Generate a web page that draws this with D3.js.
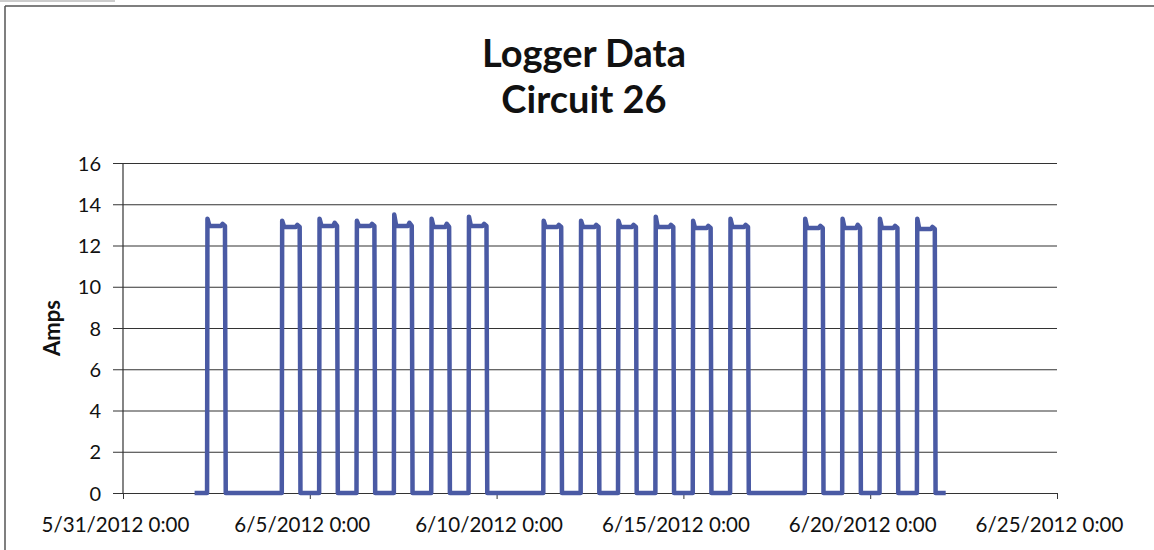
<!DOCTYPE html>
<html>
<head>
<meta charset="utf-8">
<script src="https://cdn.jsdelivr.net/npm/d3@7"></script>
<style>
  body { margin: 0; background: #fff; }
  svg { display: block; }
  text { font-family: Lato, "Open Sans", sans-serif; fill: #111; }
</style>
</head>
<body>
<svg id="chart"></svg>
<script>
const width = 1154;
const height = 550;

// days the circuit ran (6:00 on, 18:00 off)
const pulseDays = [
  "2012-06-02", "2012-06-04", "2012-06-05", "2012-06-06", "2012-06-07", "2012-06-08",
  "2012-06-09", "2012-06-11", "2012-06-12", "2012-06-13", "2012-06-14", "2012-06-15",
  "2012-06-16", "2012-06-18", "2012-06-19", "2012-06-20", "2012-06-21"
];
// start spike, plateau, late bump
const peakAmps    = [13.3, 13.2, 13.3, 13.2, 13.5, 13.3, 13.4, 13.2, 13.2, 13.2, 13.4, 13.2, 13.3, 13.3, 13.3, 13.3, 13.3];
const plateauAmps = [12.95, 12.9, 12.95, 12.95, 12.95, 12.9, 12.95, 12.9, 12.9, 12.9, 12.9, 12.85, 12.9, 12.85, 12.85, 12.85, 12.8];
const bumpAmps    = [13.05, 13.0, 13.1, 13.05, 13.1, 13.05, 13.05, 13.0, 13.0, 13.0, 13.0, 12.95, 13.0, 12.95, 13.0, 12.95, 12.9];
const shapeHours  = [6, 6.25, 7.5, 15, 16, 17.5, 18];

const seriesStart = "2012-06-01T22:00:00";
const seriesEnd = "2012-06-22T00:30:00";

const xTickDates = ["2012-05-31", "2012-06-05", "2012-06-10", "2012-06-15", "2012-06-20", "2012-06-25"];
const yTicks = [0, 2, 4, 6, 8, 10, 12, 14, 16];

const parseDay = d3.timeParse("%Y-%m-%d");
const parseTime = d3.timeParse("%Y-%m-%dT%H:%M:%S");

// assemble the logger readings
const readings = [{ t: parseTime(seriesStart), v: 0 }];
pulseDays.forEach((day, i) => {
  const base = parseDay(day);
  const vals = [0, peakAmps[i], plateauAmps[i], plateauAmps[i], bumpAmps[i], plateauAmps[i], 0];
  shapeHours.forEach((h, j) => {
    readings.push({ t: new Date(base.getTime() + h * 3600e3), v: vals[j] });
  });
});
readings.push({ t: parseTime(seriesEnd), v: 0 });

const svg = d3.select("#chart")
  .attr("width", width)
  .attr("height", height);

// scanned frame
svg.append("line")
  .attr("x1", 5).attr("x2", width).attr("y1", 6).attr("y2", 6)
  .attr("stroke", "#555").attr("stroke-width", 1.5);
svg.append("line")
  .attr("x1", 5).attr("x2", 5).attr("y1", 6).attr("y2", height)
  .attr("stroke", "#555").attr("stroke-width", 1.5);
svg.append("line")
  .attr("x1", 0).attr("x2", 115).attr("y1", 1).attr("y2", 1)
  .attr("stroke", "#999").attr("stroke-width", 1);

const x = d3.scaleTime()
  .domain([parseDay(xTickDates[0]), parseDay(xTickDates[xTickDates.length - 1])])
  .range([123, 1057]);

const y = d3.scaleLinear()
  .domain([0, 16])
  .range([493, 163]);

// gridlines + y ticks
svg.append("g")
  .attr("transform", "translate(123,0)")
  .call(d3.axisLeft(y).tickValues(yTicks).tickSize(-(1057 - 123)).tickPadding(22).tickSizeOuter(0))
  .call(g => g.select(".domain").remove())
  .call(g => g.selectAll(".tick line").attr("stroke", "#333").attr("stroke-width", 1.2).attr("x1", -10))
  .call(g => g.selectAll(".tick text").style("font-size", "20px").attr("dy", "0.35em"));

// y axis line
svg.append("line")
  .attr("x1", 123).attr("x2", 123).attr("y1", y(16)).attr("y2", y(0))
  .attr("stroke", "#333").attr("stroke-width", 1.2);

// x axis
const fmtTick = d3.timeFormat("%-m/%-d/%Y 0:00");
svg.append("g")
  .attr("transform", `translate(0,${y(0)})`)
  .call(d3.axisBottom(x).tickValues(xTickDates.map(parseDay)).tickFormat(fmtTick).tickSize(6).tickPadding(18).tickSizeOuter(0))
  .call(g => g.select(".domain").attr("stroke", "#333").attr("stroke-width", 1.2))
  .call(g => g.selectAll(".tick line").attr("stroke", "#333"))
  .call(g => g.selectAll(".tick text").style("font-size", "20.5px").attr("dx", "-8"));

// data line
const line = d3.line()
  .x(d => x(d.t))
  .y(d => y(d.v));

svg.append("path")
  .datum(readings)
  .attr("fill", "none")
  .attr("stroke", "#4a5aa4")
  .attr("stroke-width", 4.5)
  .attr("stroke-linejoin", "round")
  .attr("d", line);

// titles
svg.append("text")
  .attr("x", 584).attr("y", 67)
  .attr("text-anchor", "middle")
  .style("font-size", "38px").style("font-weight", "bold")
  .text("Logger Data");
svg.append("text")
  .attr("x", 584).attr("y", 113)
  .attr("text-anchor", "middle")
  .style("font-size", "38px").style("font-weight", "bold")
  .text("Circuit 26");

svg.append("text")
  .attr("transform", "translate(60,328) rotate(-90)")
  .attr("text-anchor", "middle")
  .style("font-size", "22px").style("font-weight", "bold")
  .text("Amps");
</script>
</body>
</html>
